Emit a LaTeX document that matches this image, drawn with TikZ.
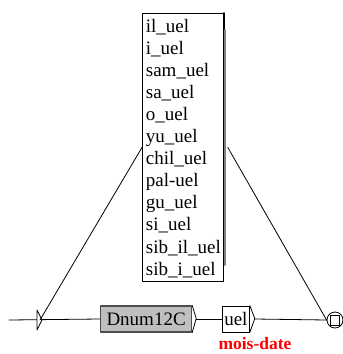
\documentclass[tikz,border=0pt]{standalone}
\usepackage{fontspec}
\setmainfont{Liberation Serif}
\begin{document}
\begin{tikzpicture}[x=1pt, y=-1pt, line join=round, line cap=round, line width=0.8pt,
  font=\fontsize{19}{22}\selectfont,
  box/.style={draw, inner sep=0pt, minimum height=26pt, anchor=west},
  subgraph/.style={box, draw=black!70, fill=black!25, line width=1.2pt}]
				\useasboundingbox (0,0) rectangle (343,354);
				% list of words
				\node[draw, inner sep=0pt, anchor=north west, minimum width=81pt, minimum height=268pt] (lst) at (142,13) {};
				\draw[line width=1.6pt] (lst.north east)--++(0,17);
				\draw[black!50, line width=2pt] (225,30)--(225,265);
				\foreach \t [count=\i] in {il\_uel,i\_uel,sam\_uel,sa\_uel,o\_uel,yu\_uel,chil\_uel,pal-uel,gu\_uel,si\_uel,sib\_il\_uel,sib\_i\_uel}
				\node[anchor=base west, inner sep=0pt] (w\i) at (145.5,{32+22.1*(\i-1)}) {\t};
				% main line
				\coordinate (in) at (9,320);
				\coordinate (s) at (40,320);
				\node[subgraph, minimum width=91pt] (dnum) at (100,319) {Dnum12C};
				\node[box, minimum width=27pt] (uel) at (222,319) {uel};
				\node[draw, circle, minimum size=16pt, inner sep=0pt] (fin) at (335,320) {};
				\draw (fin.center)+(-4.5,-5) rectangle +(4.5,5);
				\draw (dnum.north east)--++(4,13)--(dnum.south east);
				\draw (uel.north east)--++(5,13)--(uel.south east);
				\draw (in)--(dnum.west);
				\draw[fill=white] (37,310)--(42,320)--(37,330)--cycle;
				\draw ([xshift=4pt]dnum.east)--(uel.west);
				\draw ([xshift=5pt]uel.east)--(fin.west);
				\draw (lst.west)--(s);
				\draw ([xshift=4pt]lst.east)--(fin.west);
				\node[anchor=base, inner sep=0pt, text=red, font=\bfseries\fontsize{17.5}{20}\selectfont] (lbl) at (255,349.5) {mois-date};
			\end{tikzpicture}
\end{document}
